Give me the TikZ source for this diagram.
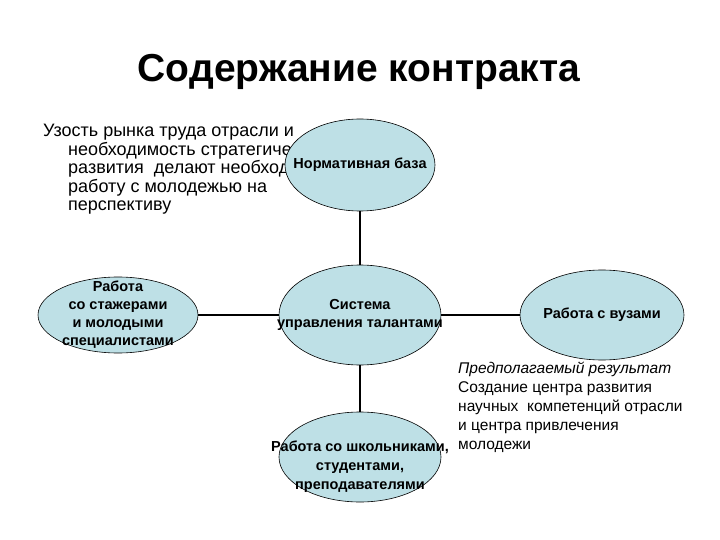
\documentclass[tikz,border=0pt]{standalone}
\usepackage{fontspec}
\setmainfont{Liberation Sans}
\usetikzlibrary{shapes.geometric}
\definecolor{ellfill}{RGB}{190,224,230}
\begin{document}
\begin{tikzpicture}[x=1pt,y=-1pt,
  ell/.style={ellipse,draw=black,fill=ellfill,line width=0.6pt,inner sep=0pt},
  lbl/.style={font=\bfseries\fontsize{14.5}{18}\selectfont,align=center},
  conn/.style={line width=1.3pt}]
\useasboundingbox (0,0) rectangle (720,540);
\fill[white] (0,0) rectangle (720,540);
\node[font=\bfseries\fontsize{39}{44}\selectfont] (title) at (359,72) {Содержание контракта};
\node[anchor=north west,align=left,font=\fontsize{18}{18.5}\selectfont,inner sep=0pt] (txt) at (43,124)
 {Узость рынка труда отрасли и\\
 \hspace*{25pt}необходимость стратегического\\
 \hspace*{25pt}развития \ делают необходимой\\
 \hspace*{25pt}работу с молодежью на\\
 \hspace*{25pt}перспективу};
\node[ell,minimum width=150pt,minimum height=92pt] (norm) at (360,165) {};
\node[lbl] at (norm) {Нормативная база};
\node[ell,minimum width=162pt,minimum height=100pt] (sys) at (360,315) {};
\node[lbl] at (sys) {Система\\управления талантами};
\node[ell,minimum width=160pt,minimum height=76pt] (left) at (118,315) {};
\node[lbl] at (left) {Работа\\со стажерами\\и молодыми\\специалистами};
\node[ell,minimum width=164pt,minimum height=90pt] (right) at (602,315) {};
\node[lbl] at (right) {Работа с вузами};
\node[ell,minimum width=162pt,minimum height=90pt] (bot) at (360,457) {};
\node[lbl,font=\bfseries\fontsize{14.5}{19}\selectfont] at (360,467) {Работа со школьниками,\\студентами,\\преподавателями};
\draw[conn] (norm.south) -- (sys.north);
\draw[conn] (sys.south) -- (bot.north);
\draw[conn] (left.east) -- (sys.west);
\draw[conn] (sys.east) -- (right.west);
\node[anchor=north west,align=left,font=\fontsize{15.5}{19}\selectfont,inner sep=0pt] (res) at (458,362)
 {\textit{Предполагаемый результат}\\
 Создание центра развития\\
 научных \ компетенций отрасли\\
 и центра привлечения\\
 молодежи};
\end{tikzpicture}
\end{document}
